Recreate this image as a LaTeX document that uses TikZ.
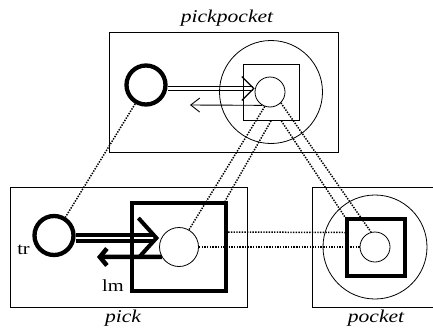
\documentclass[tikz,border=0pt]{standalone}
\usepackage{fontspec}
\setmainfont{Liberation Serif}
\usepackage{graphicx}
\usetikzlibrary{arrows.meta,backgrounds}
\newcommand{\stretched}[1]{\scalebox{1.2}[1]{#1}}

\begin{document}
\begin{tikzpicture}[x=1pt,y=-1pt,
  box/.style={draw, line width=0.8pt, inner sep=0pt},
  ring/.style={draw, circle, line width=0.8pt, inner sep=0pt},
  fat/.style={draw, circle, line width=4.3pt, inner sep=0pt},
  fatsq/.style={draw, line width=4.3pt, inner sep=0pt},
  corr/.style={line width=1.5pt, dash pattern=on 1.4pt off 1.3pt},
  title/.style={font=\fontsize{18}{20}\selectfont\itshape, inner sep=0pt},
  tag/.style={font=\fontsize{17}{19}\selectfont, inner sep=0pt}]
\useasboundingbox (0,0) rectangle (433,332);
\clip (0,0) rectangle (433,332);

% pickpocket
\node[box, minimum width=229pt, minimum height=120pt] (ppbox) at (223.5,92) {};
\node[title] (pplbl) at (227,18) {\stretched{pickpocket}};
\node[ring, minimum size=103pt] (ppring) at (271,92) {};
\node[box, minimum size=56pt] (ppsq) at (271,92.5) {};
\node[ring, minimum size=30pt] (ppin) at (270,92) {};
\node[fat, minimum size=39pt] (pptc) at (146,85) {};
\coordinate (pprt) at (190,105);

% pick
\node[box, minimum width=237pt, minimum height=120pt] (pkbox) at (128.5,247) {};
\node[title] (pklbl) at (123,318) {\stretched{pick}};
\node[fatsq, minimum width=94pt, minimum height=88pt] (pksq) at (179,247) {};
\node[ring, minimum size=39pt] (pkin) at (179,247) {};
\node[fat, minimum size=39pt] (pktc) at (54,235.5) {};
\node[tag] (trlbl) at (23.5,250) {\stretched{tr}};
\node[tag] (lmlbl) at (113,286) {\stretched{lm}};
\coordinate (pkrt) at (97,257);

% pocket
\node[box, minimum width=123pt, minimum height=120pt] (pcbox) at (373.5,247) {};
\node[title] (pclbl) at (376,318) {\stretched{pocket}};
\node[ring, minimum size=104pt] (pcring) at (375,247) {};
\node[fatsq, minimum width=58pt, minimum height=57pt] (pcsq) at (376,247.5) {};
\node[ring, minimum size=30pt] (pcin) at (375,247) {};

% arrows under the shapes
\begin{pgfonlayer}{background}
\draw[line width=1.2pt, double, double distance=3.5pt, -{Straight Barb[length=12pt,width=24pt]}]
  ([yshift=-3.5pt]pptc.east) -- ([yshift=-3.5pt]pptc.east -| ppin.west);
\draw[line width=0.9pt, -{Straight Barb[length=9pt,width=14pt]}] (ppin.240) -- (pprt);
\draw[line width=4pt, double, double distance=2pt, -{Straight Barb[length=18pt,width=40pt]}]
  ([yshift=-2.5pt]pktc.east) -- ([yshift=-2.5pt]pktc.east -| pkin.west);
\draw[line width=4.5pt, -{Straight Barb[length=7pt,width=17pt]}] (pkin.210) -- (pkrt);
\end{pgfonlayer}

% correspondences
\draw[corr] (pptc.240) -- (pktc.58);
\draw[corr] (ppin.250) -- (pkin.60);
\draw[corr] (ppsq.south) -- (pksq.45);
\draw[corr] (ppin.-45) -- (pcin.105);
\draw[corr] (ppsq.-70) -- (pcsq.north west);
\draw[corr] ([yshift=15pt]pksq.east) -- ([yshift=15pt]pcsq.west);
\draw[corr] (pkin.east) -- (pcin.west);
\end{tikzpicture}
\end{document}
